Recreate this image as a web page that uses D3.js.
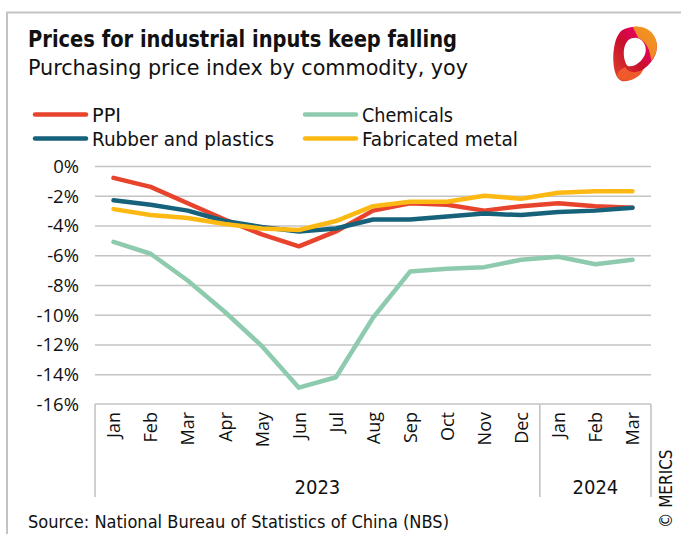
<!DOCTYPE html>
<html>
<head>
<meta charset="utf-8">
<script src="https://cdn.jsdelivr.net/npm/d3@7"></script>
<style>
  html, body { margin: 0; padding: 0; background: #fff; }
  svg { display: block; }
  .narrow { font-family: "Liberation Sans Narrow", "DejaVu Sans Condensed", "Roboto", sans-serif; }
  .tick text { font-family: "Open Sans", "Noto Sans", "DejaVu Sans", sans-serif; }
</style>
</head>
<body>
<svg id="chart" width="681" height="534"></svg>
<script>
const months = ["Jan","Feb","Mar","Apr","May","Jun","Jul","Aug","Sep","Oct","Nov","Dec","Jan","Feb","Mar"];
const years = [{label: "2023", start: 0, end: 11}, {label: "2024", start: 12, end: 14}];
const yTicks = [0, -2, -4, -6, -8, -10, -12, -14, -16];

const ppi       = [-0.8, -1.4, -2.5, -3.6, -4.6, -5.4, -4.4, -3.0, -2.5, -2.6, -3.0, -2.7, -2.5, -2.7, -2.8];
const chemicals = [-5.1, -5.9, -7.7, -9.8, -12.1, -14.9, -14.2, -10.2, -7.1, -6.9, -6.8, -6.3, -6.1, -6.6, -6.3];
const rubber    = [-2.3, -2.6, -3.0, -3.7, -4.1, -4.4, -4.2, -3.6, -3.6, -3.4, -3.2, -3.3, -3.1, -3.0, -2.8];
const metal     = [-2.9, -3.3, -3.5, -3.9, -4.2, -4.3, -3.7, -2.7, -2.4, -2.4, -2.0, -2.2, -1.8, -1.7, -1.7];

const seriesNames = ["PPI", "Chemicals", "Rubber and plastics", "Fabricated metal"];
const seriesColors = ["#e8432d", "#8ecbae", "#16627a", "#fdb913"];

const svg = d3.select("#chart");

// frame
svg.append("path")
  .attr("d", "M7,534 V12.5 H681")
  .attr("fill", "none").attr("stroke", "#c3c3c3").attr("stroke-width", 2);

// Title
svg.append("text").attr("class", "narrow")
  .attr("x", 28).attr("y", 47)
  .attr("font-size", 23).attr("font-weight", "bold").attr("fill", "#111")
  .attr("textLength", 429).attr("lengthAdjust", "spacingAndGlyphs")
  .text("Prices for industrial inputs keep falling");
svg.append("text").attr("class", "narrow")
  .attr("x", 28).attr("y", 75)
  .attr("font-size", 22).attr("fill", "#111")
  .attr("textLength", 440).attr("lengthAdjust", "spacingAndGlyphs")
  .text("Purchasing price index by commodity, yoy");

// Logo (approximate)
const defs = svg.append("defs");
const g1 = defs.append("linearGradient").attr("id", "lg1").attr("x1", "0").attr("y1", "1").attr("x2", "1").attr("y2", "0");
g1.append("stop").attr("offset", "0").attr("stop-color", "#e0452a");
g1.append("stop").attr("offset", "0.45").attr("stop-color", "#c8102e");
g1.append("stop").attr("offset", "0.7").attr("stop-color", "#e4005a");
g1.append("stop").attr("offset", "1").attr("stop-color", "#f39a1e");
const logo = svg.append("g").attr("transform", "translate(635,54) scale(1.08)");
logo.append("path")
  .attr("d", "M-12,-22 C-2,-28 14,-26 19,-14 C23,-4 18,6 8,14 C0,22 -10,30 -16,22 C-22,14 -22,-14 -12,-22 Z M-7,-12 C-12,-6 -11,6 -7,11 C-2,13 6,8 9,1 C12,-6 8,-14 1,-15 C-3,-15 -5,-14 -7,-12 Z")
  .attr("fill", "url(#lg1)").attr("fill-rule", "evenodd");
logo.append("path")
  .attr("d", "M-2,-25 C8,-27 16,-22 19,-14 C22,-6 19,2 15,6 C14,-4 10,-12 3,-15 Z")
  .attr("fill", "#f29a1f").attr("opacity", 0.9);
logo.append("path")
  .attr("d", "M-16,22 C-10,28 4,24 8,14 C2,18 -6,18 -9,12 C-14,14 -18,18 -16,22 Z")
  .attr("fill", "#ee5a2b");

// Legend
const legendPos = [
  {x: 33, y: 114.5, w: 29}, {x: 303, y: 114.5, w: 91},
  {x: 33, y: 138.5, w: 182}, {x: 303, y: 138.5, w: 156}
];
seriesNames.forEach((name, i) => {
  const p = legendPos[i];
  svg.append("line")
    .attr("x1", p.x + 2).attr("x2", p.x + 53).attr("y1", p.y).attr("y2", p.y)
    .attr("stroke", seriesColors[i]).attr("stroke-width", 4.5).attr("stroke-linecap", "round");
  svg.append("text").attr("class", "narrow")
    .attr("x", p.x + 59).attr("y", p.y + 7)
    .attr("font-size", 20).attr("fill", "#111")
    .attr("textLength", p.w).attr("lengthAdjust", "spacingAndGlyphs")
    .text(name);
});

// Scales
const x = d3.scalePoint().domain(d3.range(months.length)).range([95, 651]).padding(0.5);
const y = d3.scaleLinear().domain([-16, 0]).range([404, 166]);
const step = x.step();

// Gridlines
const grid = svg.append("g").attr("transform", "translate(95,0)")
  .call(d3.axisLeft(y).tickValues(yTicks.filter(v => v > -16)).tickSize(-556).tickFormat(""));
grid.select(".domain").remove();
grid.selectAll(".tick line").attr("stroke", "#c4c4c4").attr("stroke-width", 1.6);

// Y axis labels
const yAxis = svg.append("g").attr("transform", "translate(79,0)")
  .call(d3.axisLeft(y).tickValues(yTicks).tickSize(0).tickPadding(0).tickFormat(d => d + "%"));
yAxis.select(".domain").remove();
yAxis.selectAll(".tick text").attr("font-size", 18.5).attr("fill", "#111").attr("dy", "0.35em");

// X axis box
const boxTop = y(-16), boxBottom = 497;
const boxG = svg.append("g");
boxG.append("line").attr("x1", 95).attr("x2", 651).attr("y1", boxTop).attr("y2", boxTop)
  .attr("stroke", "#c4c4c4").attr("stroke-width", 1.6);
const seps = [x(0) - step / 2, x(12) - step / 2, x(14) + step / 2];
seps.forEach(s => {
  boxG.append("line").attr("x1", s).attr("x2", s).attr("y1", boxTop).attr("y2", boxBottom)
    .attr("stroke", "#c4c4c4").attr("stroke-width", 1.6);
});

// Month labels
const xAxis = svg.append("g").attr("transform", `translate(0,${boxTop})`)
  .call(d3.axisBottom(x).tickSize(0).tickFormat(i => months[i]));
xAxis.select(".domain").remove();
xAxis.selectAll(".tick text")
  .attr("font-size", 18).attr("fill", "#111")
  .attr("transform", "rotate(-90)")
  .attr("text-anchor", "end")
  .attr("x", -8).attr("y", 0).attr("dy", "0.35em");

// Year labels
years.forEach(yr => {
  svg.append("text").attr("class", "narrow")
    .attr("x", (x(yr.start) + x(yr.end)) / 2).attr("y", 494)
    .attr("text-anchor", "middle").attr("font-size", 20).attr("fill", "#111")
    .text(yr.label);
});

// Lines
const lineGen = d3.line().x((d, i) => x(i)).y(d => y(d));
const allSeries = [ppi, chemicals, rubber, metal];
const drawOrder = [1, 0, 2, 3];
drawOrder.forEach(k => {
  svg.append("path").datum(allSeries[k])
    .attr("d", lineGen)
    .attr("fill", "none")
    .attr("stroke", seriesColors[k])
    .attr("stroke-width", 4.5)
    .attr("stroke-linejoin", "round")
    .attr("stroke-linecap", "round");
});

// Source
svg.append("text").attr("class", "narrow")
  .attr("x", 28).attr("y", 528)
  .attr("font-size", 18).attr("fill", "#111")
  .attr("textLength", 421).attr("lengthAdjust", "spacingAndGlyphs")
  .text("Source: National Bureau of Statistics of China (NBS)");

// Copyright
svg.append("text").attr("class", "narrow")
  .attr("transform", "translate(672,528) rotate(-90)")
  .attr("font-size", 17).attr("fill", "#111")
  .text("© MERICS");
</script>
</body>
</html>
